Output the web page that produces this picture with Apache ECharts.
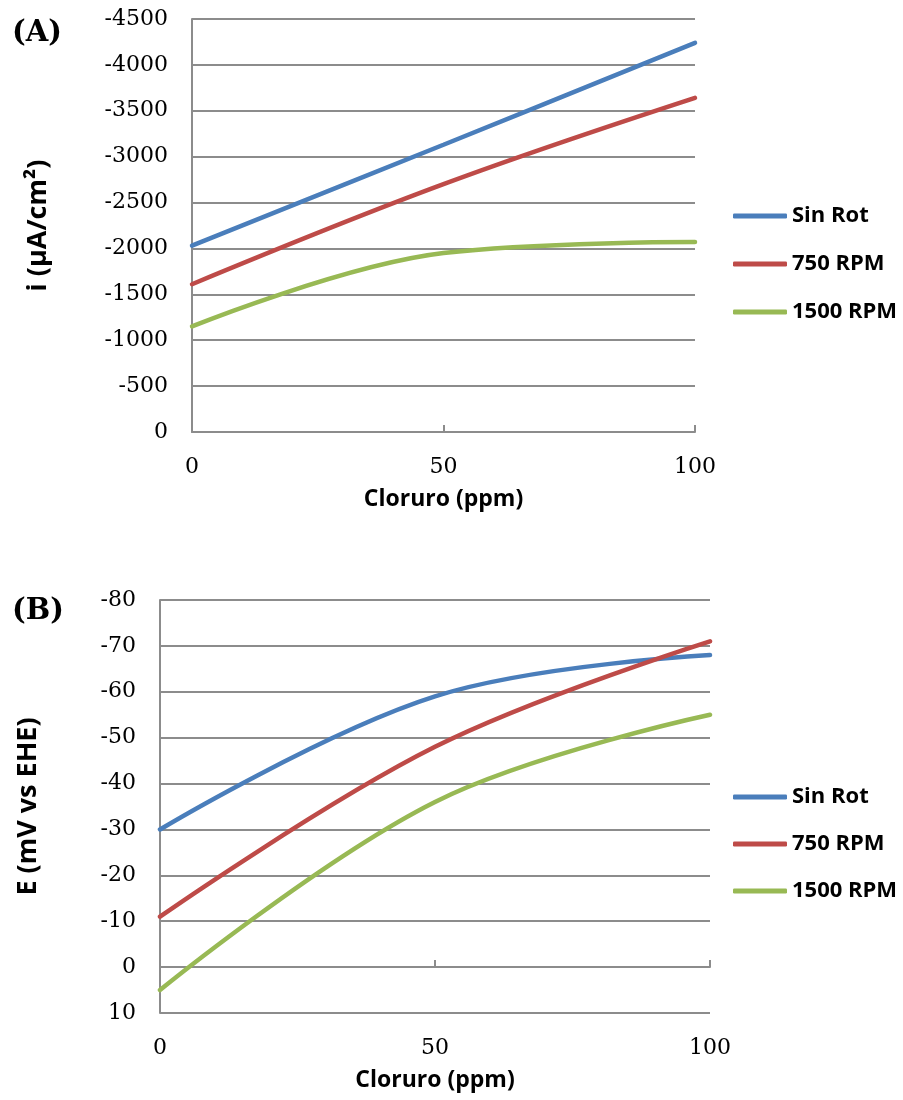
<!DOCTYPE html>
<html>
<head>
<meta charset="utf-8">
<script src="https://cdn.jsdelivr.net/npm/echarts@6/dist/echarts.min.js"></script>
<style>
html,body{margin:0;padding:0;background:#fff;}
#chart{width:903px;height:1100px;}
</style>
</head>
<body>
<div id="chart"></div>
<script>
// Data
const categories = ['0', '50', '100'];
const seriesNames = ['Sin Rot', '750 RPM', '1500 RPM'];
const aSinRot = [-2030, -3130, -4240];
const a750 = [-1610, -2700, -3640];
const a1500 = [-1150, -1950, -2070];
const bSinRot = [-30, -59, -68];
const b750 = [-11, -48, -71];
const b1500 = [5, -36, -55];

const colors = ['#4A7EBB', '#BE4B48', '#98B954'];
const gridColor = '#8C8C8C';
const serif = '"DejaVu Serif", "Liberation Serif", serif';
const sans = '"Open Sans", "Liberation Sans", sans-serif';

const chart = echarts.init(document.getElementById('chart'), null, {renderer: 'canvas'});

function lineSeries(name, data, xi, yi, ci) {
  return {
    name: name, type: 'line', data: data, xAxisIndex: xi, yAxisIndex: yi,
    smooth: 0.38, showSymbol: false, symbol: 'none',
    lineStyle: {width: 4.5, color: colors[ci], cap: 'round'},
    itemStyle: {color: colors[ci]},
    z: 5
  };
}

const plainNum = function (v) { return String(v); };
const yLabel = {fontFamily: serif, fontSize: 22, color: '#000', margin: 24, formatter: plainNum};
const xLabel = {fontFamily: serif, fontSize: 22, color: '#000', margin: 24};
const xNameStyle = {fontFamily: sans, fontSize: 23, fontWeight: 'bold', color: '#000'};
const yNameStyle = {fontFamily: sans, fontSize: 27, fontWeight: 'bold', color: '#000'};

const option = {
  animation: false,
  backgroundColor: '#fff',
  graphic: [
    {type: 'text', left: 12, top: 19, style: {text: '(A)', font: 'bold 29px ' + serif, fill: '#000'}},
    {type: 'text', left: 12, top: 597, style: {text: '(B)', font: 'bold 29px ' + serif, fill: '#000'}}
  ],
  legend: [
    {
      data: seriesNames, orient: 'vertical', left: 728, top: 198, itemGap: 22,
      icon: 'roundRect', itemWidth: 54, itemHeight: 5,
      textStyle: {fontFamily: sans, fontSize: 22, fontWeight: 'bold', color: '#000', lineHeight: 26}
    },
    {
      data: seriesNames, orient: 'vertical', left: 728, top: 779, itemGap: 21,
      icon: 'roundRect', itemWidth: 54, itemHeight: 5,
      textStyle: {fontFamily: sans, fontSize: 22, fontWeight: 'bold', color: '#000', lineHeight: 26}
    }
  ],
  grid: [
    {left: 192, right: 208, top: 19, height: 413, containLabel: false},
    {left: 160, right: 193, top: 600, height: 413, containLabel: false}
  ],
  xAxis: [
    {
      gridIndex: 0, type: 'category', data: categories, boundaryGap: false, position: 'bottom',
      axisLine: {show: true, onZero: false, lineStyle: {color: gridColor, width: 2}},
      axisTick: {show: true, inside: true, length: 7, lineStyle: {color: gridColor, width: 2}},
      axisLabel: xLabel, splitLine: {show: false},
      name: 'Cloruro (ppm)', nameLocation: 'middle', nameGap: 56, nameTextStyle: xNameStyle
    },
    {
      gridIndex: 1, type: 'category', data: categories, boundaryGap: false, position: 'bottom',
      axisLine: {show: false, onZero: false},
      axisTick: {show: false},
      axisLabel: xLabel, splitLine: {show: false},
      name: 'Cloruro (ppm)', nameLocation: 'middle', nameGap: 56, nameTextStyle: xNameStyle
    },
    {
      gridIndex: 1, type: 'category', data: categories, boundaryGap: false, position: 'bottom',
      axisLine: {show: true, onZero: true, lineStyle: {color: gridColor, width: 2}},
      axisTick: {show: true, inside: true, length: 7, lineStyle: {color: gridColor, width: 2}},
      axisLabel: {show: false}, splitLine: {show: false}
    }
  ],
  yAxis: [
    {
      gridIndex: 0, type: 'value', min: -4500, max: 0, interval: 500, inverse: true,
      axisLine: {show: true, lineStyle: {color: gridColor, width: 2}},
      axisTick: {show: false},
      axisLabel: yLabel,
      splitLine: {show: true, lineStyle: {color: gridColor, width: 2}},
      name: 'i (µA/cm²)', nameLocation: 'middle', nameGap: 140, nameTextStyle: yNameStyle
    },
    {
      gridIndex: 1, type: 'value', min: -80, max: 10, interval: 10, inverse: true,
      axisLine: {show: true, onZero: false, lineStyle: {color: gridColor, width: 2}},
      axisTick: {show: false},
      axisLabel: yLabel,
      splitLine: {show: true, lineStyle: {color: gridColor, width: 2}},
      name: 'E (mV vs EHE)', nameLocation: 'middle', nameGap: 118, nameTextStyle: yNameStyle
    }
  ],
  series: [
    lineSeries('Sin Rot', aSinRot, 0, 0, 0),
    lineSeries('750 RPM', a750, 0, 0, 1),
    lineSeries('1500 RPM', a1500, 0, 0, 2),
    lineSeries('Sin Rot', bSinRot, 2, 1, 0),
    lineSeries('750 RPM', b750, 2, 1, 1),
    lineSeries('1500 RPM', b1500, 2, 1, 2)
  ]
};
chart.setOption(option);
</script>
</body>
</html>
